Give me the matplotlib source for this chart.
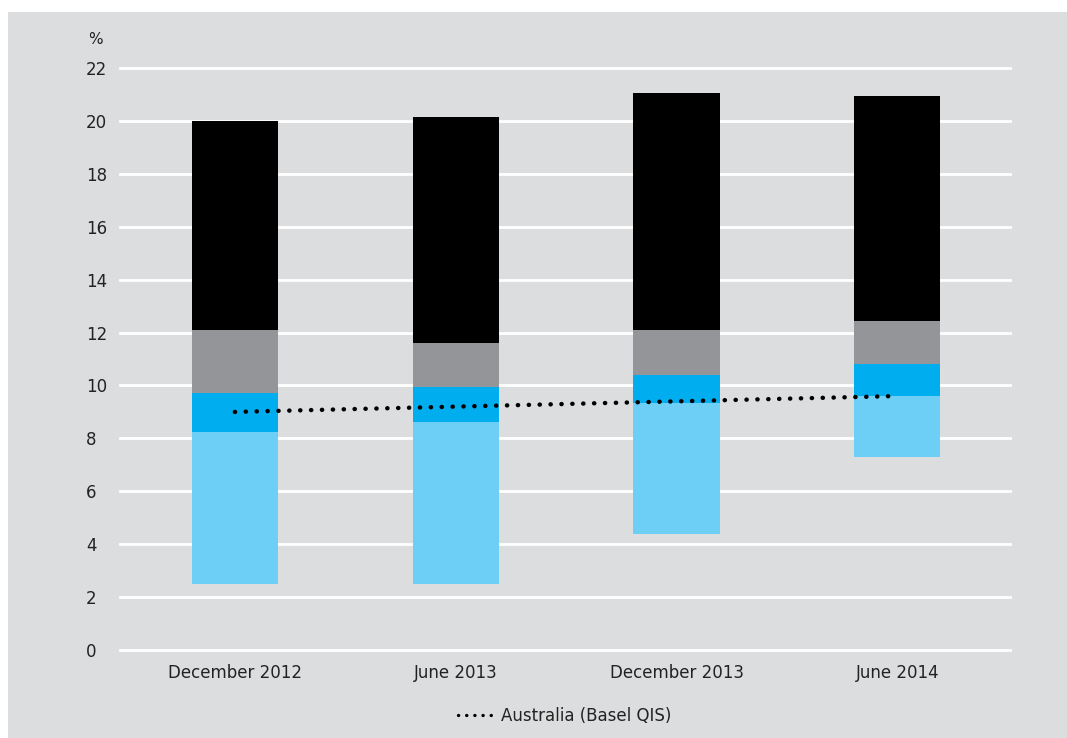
import matplotlib
matplotlib.use("Agg")
import matplotlib.pyplot as plt
from matplotlib.patches import Rectangle
import numpy as np

categories = ["December 2012", "June 2013", "December 2013", "June 2014"]
base = [2.5, 2.5, 4.4, 7.3]            # bottom of floating bar
light_top = [8.25, 8.6, 9.35, 9.6]     # top of light blue segment
blue_top = [9.7, 9.95, 10.4, 10.8]     # top of blue segment
gray_top = [12.1, 11.6, 12.1, 12.45]   # top of gray segment
black_top = [20.0, 20.15, 21.05, 20.95]  # top of black segment
australia = [9.0, 9.2, 9.4, 9.6]
yticks = [0, 2, 4, 6, 8, 10, 12, 14, 16, 18, 20, 22]

BG = "#dcddde"
fig = plt.figure(figsize=(10.67, 7.38), dpi=100)
fig.patch.set_facecolor("white")
W, H = 1067, 738
fig.add_artist(Rectangle((8 / W, 0), 1 - 8 / W, 1 - 12 / H, transform=fig.transFigure,
                         facecolor=BG, edgecolor="none", zorder=-10))

left, right = 120 / W, 1010 / W
bottom, top = 1 - 650 / H, 1 - 68 / H
ax = fig.add_axes([left, bottom, right - left, top - bottom])
ax.set_facecolor(BG)
ax.patch.set_alpha(0)

x = np.arange(len(categories))
width = 0.39
segs = [
    (base, light_top, "#6dcff6"),
    (light_top, blue_top, "#00aeef"),
    (blue_top, gray_top, "#939598"),
    (gray_top, black_top, "#000000"),
]
for lo, hi, col in segs:
    lo = np.array(lo); hi = np.array(hi)
    ax.bar(x, hi - lo, bottom=lo, width=width, color=col, zorder=3, linewidth=0)

ax.plot(x, australia, color="black", linewidth=3.2, linestyle=(0, (0.05, 2.4)),
        dash_capstyle="round", zorder=4, label="Australia (Basel QIS)")

ax.set_xlim(-0.52, 3.51)
ax.set_ylim(0, 22)
ax.set_yticks(yticks)
ax.yaxis.grid(True, color="white", linewidth=2, zorder=0)
for gl in ax.get_ygridlines():
    gl.set_clip_on(False)
ax.set_axisbelow(True)
for s in ax.spines.values():
    s.set_visible(False)
ax.tick_params(axis="both", length=0, labelsize=12, colors="#222222")
ax.tick_params(axis="x", pad=10)
ax.set_xticks(x)
ax.set_xticklabels(categories)
for lab in ax.get_yticklabels():
    lab.set_horizontalalignment("left")
ax.tick_params(axis="y", pad=24.5)

fig.text(88 / W, 1 - 40 / H, "%", fontsize=11, color="#222222", va="center", ha="left")

leg = fig.legend(handles=ax.get_lines(), loc="center", bbox_to_anchor=(565 / W, 1 - 716 / H),
                 frameon=False, fontsize=12, handlelength=2.2, handletextpad=0.4)
for t in leg.get_texts():
    t.set_color("#222222")
for h in leg.legend_handles:
    h.set_linewidth(2.4)

fig.savefig("out.png", dpi=100, facecolor=fig.get_facecolor())
